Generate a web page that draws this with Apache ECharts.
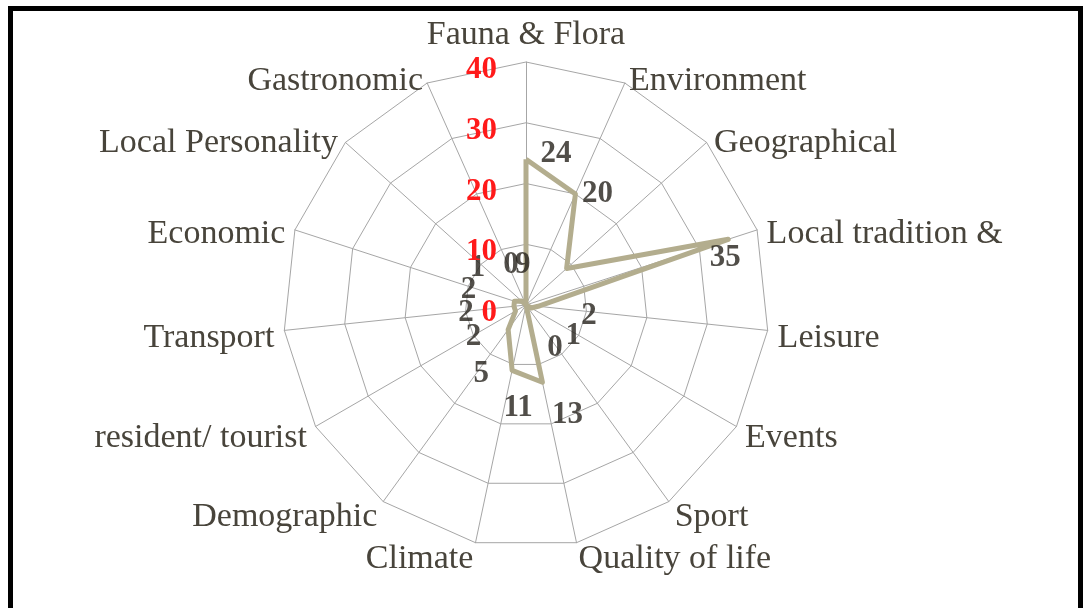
<!DOCTYPE html>
<html>
<head>
<meta charset="utf-8">
<script src="https://cdn.jsdelivr.net/npm/echarts@6/dist/echarts.min.js"></script>
<style>
  html, body { margin: 0; padding: 0; background: #fff; }
  #chart { width: 1083px; height: 608px; }
</style>
</head>
<body>
<div id="chart"></div>
<script>
const categories = [
  'Fauna & Flora', 'Environment', 'Geographical', 'Local tradition &', 'Leisure',
  'Events', 'Sport', 'Quality of life', 'Climate', 'Demographic',
  'resident/ tourist', 'Transport', 'Economic', 'Local Personality', 'Gastronomic'
];
const counts = [24, 20, 9, 35, 2, 1, 0, 13, 11, 5, 2, 2, 2, 1, 0];
const axisMax = 40;
const axisStep = 10;

// where each value label sits relative to its vertex (px)
const labelShift = [
  [30, -5], [22, 0], [-44, -3], [-3, 19], [51, 10],
  [42, 28], [29, 43], [25, 33], [6, 38], [-27, 44],
  [-42, 26], [-48, 7], [-46, -11], [-44, -33], [-15, -40]
];

const CENTER = [526, 305];
const RADIUS = 243;
const SERIF = "'Liberation Serif', 'Times New Roman', serif";
const GRID = '#a6a6a6';

// radar runs counter-clockwise, the reference runs clockwise: keep the first
// spoke on top and walk the rest backwards
const cwOrder = [0].concat(categories.map((_, i) => i).slice(1).reverse());

const chart = echarts.init(document.getElementById('chart'));

chart.setOption({
  animation: false,
  backgroundColor: '#fff',
  graphic: [{
    type: 'rect',
    shape: { x: 10.5, y: 8.5, width: 1070, height: 700 },
    style: { fill: 'none', stroke: '#000', lineWidth: 5 },
    z: 100
  }],
  radar: {
    center: CENTER,
    radius: RADIUS,
    startAngle: 90,
    shape: 'polygon',
    splitNumber: axisMax / axisStep,
    indicator: cwOrder.map(i => ({ name: categories[i], min: 0, max: axisMax })),
    axisName: {
      formatter: name => '{n|' + name + '}',
      rich: {
        n: {
          color: '#48443b',
          fontFamily: SERIF,
          fontSize: 34,
          padding: [14, 0, 0, 0]
        }
      }
    },
    nameGap: 10,
    axisLine: { lineStyle: { color: GRID, width: 1 } },
    splitLine: { lineStyle: { color: GRID, width: 1 } },
    splitArea: { show: false },
    axisTick: { show: false },
    axisLabel: { show: false }
  },
  // polar twin of the radar, used for the red scale and the value labels
  polar: { center: CENTER, radius: RADIUS },
  angleAxis: {
    type: 'value',
    min: 0,
    max: categories.length,
    startAngle: 90,
    clockwise: true,
    axisLine: { show: false },
    axisTick: { show: false },
    axisLabel: { show: false },
    splitLine: { show: false }
  },
  radiusAxis: {
    min: 0,
    max: axisMax,
    interval: axisStep,
    axisLine: { show: false },
    axisTick: { show: false },
    splitLine: { show: false },
    axisLabel: {
      margin: 29,
      formatter: v => '{r|' + v + '}',
      rich: {
        r: {
          color: '#ff1a1a',
          fontFamily: SERIF,
          fontWeight: 'bold',
          fontSize: 31,
          padding: [16, 0, 0, 0]
        }
      }
    },
    z: 10
  },
  series: [
    {
      type: 'radar',
      symbol: 'none',
      lineStyle: { color: '#b3ad8e', width: 5 },
      data: [{ value: cwOrder.map(i => counts[i]), name: 'Count' }]
    },
    {
      type: 'scatter',
      coordinateSystem: 'polar',
      symbolSize: 0,
      silent: true,
      data: counts.map((v, i) => ({
        value: [v, i],
        label: { offset: labelShift[i] }
      })),
      label: {
        show: true,
        position: 'inside',
        formatter: p => String(p.value[0]),
        color: '#25221b',
        fontFamily: SERIF,
        fontWeight: 'bold',
        fontSize: 31
      },
      z: 5
    }
  ]
});
</script>
</body>
</html>
